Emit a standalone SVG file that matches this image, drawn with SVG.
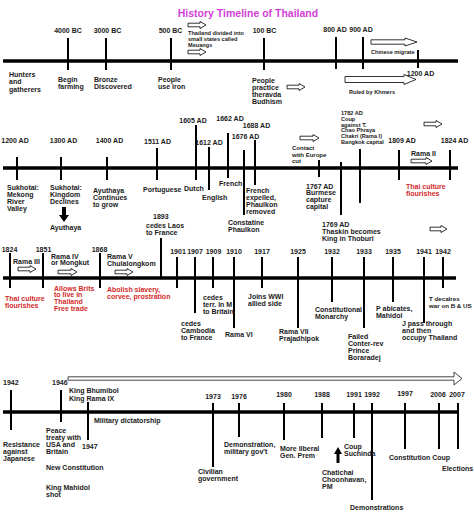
<svg xmlns="http://www.w3.org/2000/svg" width="474" height="530" viewBox="0 0 474 530">
<style>
text{font-family:"Liberation Sans",Arial,sans-serif;font-weight:bold;font-size:7px;fill:#1a1a1a}
.m{text-anchor:middle}
.r{fill:#d42a2a}
.s{font-size:5.6px}
.t{font-size:10.5px;fill:#d23fd6}
.ax{stroke:#000;stroke-width:3.5;fill:none}
.tk{stroke:#000;stroke-width:2}
.ha{fill:#fff;stroke:#000;stroke-width:0.8}
.la{fill:#fff;stroke:#444;stroke-width:1}
.sa{fill:#000}
</style>
<rect width="474" height="530" fill="#fff"/>
<g id="title"><text class="t m" x="248" y="17">History Timeline of Thailand</text></g>

<g id="connectors">
<line class="ax" x1="3" y1="61" x2="458" y2="61"/>
<line class="ax" x1="3" y1="168" x2="458" y2="168"/>
<line class="ax" x1="3" y1="278" x2="456" y2="278"/>
<line class="ax" x1="3" y1="412" x2="458" y2="412"/>
<g class="tk">
<line x1="68" y1="38" x2="68" y2="70"/><line x1="106" y1="38" x2="106" y2="70"/>
<line x1="171" y1="38" x2="171" y2="70"/><line x1="264" y1="38" x2="264" y2="70"/>
<line x1="336" y1="37" x2="336" y2="69"/><line x1="363" y1="37" x2="363" y2="69"/>
<line x1="418" y1="50" x2="418" y2="68"/>
<line x1="17" y1="157" x2="17" y2="180"/><line x1="61" y1="157" x2="61" y2="180"/>
<line x1="107" y1="157" x2="107" y2="180"/><line x1="157" y1="148" x2="157" y2="180"/>
<line x1="196" y1="125" x2="196" y2="180"/><line x1="209" y1="147" x2="209" y2="190"/>
<line x1="228" y1="133" x2="228" y2="178"/><line x1="255" y1="140" x2="255" y2="185"/>
<line x1="244" y1="150" x2="244" y2="215"/><line x1="319" y1="160" x2="319" y2="177"/>
<line x1="341" y1="162" x2="341" y2="215"/><line x1="360" y1="149" x2="360" y2="203"/>
<line x1="399" y1="150" x2="399" y2="180"/><line x1="450" y1="150" x2="450" y2="180"/>
<line x1="10" y1="253" x2="10" y2="288"/><line x1="43" y1="253" x2="43" y2="288"/>
<line x1="100" y1="253" x2="100" y2="288"/><line x1="161" y1="238" x2="161" y2="278"/>
<line x1="177" y1="257" x2="177" y2="288"/><line x1="195" y1="257" x2="195" y2="313"/>
<line x1="213" y1="257" x2="213" y2="288"/><line x1="234" y1="257" x2="234" y2="328"/>
<line x1="262" y1="257" x2="262" y2="288"/><line x1="298" y1="257" x2="298" y2="328"/>
<line x1="332" y1="257" x2="332" y2="302"/><line x1="364" y1="257" x2="364" y2="328"/>
<line x1="393" y1="257" x2="393" y2="302"/><line x1="424" y1="257" x2="424" y2="323"/>
<line x1="443" y1="257" x2="443" y2="288"/>
<line x1="11" y1="390" x2="11" y2="430"/><line x1="61" y1="390" x2="61" y2="422"/>
<line x1="88" y1="402" x2="88" y2="440"/><line x1="213" y1="403" x2="213" y2="467"/>
<line x1="239" y1="403" x2="239" y2="437"/><line x1="284" y1="403" x2="284" y2="440"/>
<line x1="322" y1="403" x2="322" y2="438"/><line x1="354" y1="403" x2="354" y2="438"/>
<line x1="372" y1="403" x2="372" y2="500"/><line x1="405" y1="403" x2="405" y2="449"/>
<line x1="439" y1="403" x2="439" y2="449"/><line x1="458" y1="403" x2="458" y2="449"/>
</g>
<g class="ha">
<path d="M287,85.2H299V83.5L305,87L299,90.5V88.8H287Z"/>
<path d="M188,23.2H200V21.5L206,25L200,28.5V26.8H188Z"/>
<path d="M188,50.2H200V48.5L206,52L200,55.5V53.8H188Z"/>
<path d="M371,39.8H405V38L417,42L405,46V44.2H371Z"/>
<path d="M345,76.5H404V74.5L416,79.5L404,84.5V82.5H345Z"/>
<path d="M300,136.2H313V134.5L319,138L313,141.5V139.8H300Z"/>
<path d="M424,122.2H436V120.5L442,124L436,127.5V125.8H424Z"/>
<path d="M411,159.2H426V157.5L432,161L426,164.5V162.8H411Z"/>
<path d="M430,227.2H441V225.5L447,229L441,232.5V230.8H430Z"/>
<path d="M18,267.2H30V265.5L36,269L30,272.5V270.8H18Z"/>
<path d="M58,270.2H71V268.5L77,272L71,275.5V273.8H58Z"/>
<path d="M115,270.2H127V268.5L133,272L127,275.5V273.8H115Z"/>
</g>
<path class="la" d="M68,376.8H454V372L462,378.5L454,385V380.2H68Z"/>
<path class="sa" d="M62,207H66V215H69L64,222L59,215H62Z"/>
<path class="sa" d="M336.5,463H339.5V454H342L338,447L334,454H336.5Z"/>
</g>

<g id="row1">
<g id="n4000bc"><text class="m" x="68" y="32.5">4000 BC</text><text x="58" y="81.5">Begin<tspan x="58" dy="7">farming</tspan></text></g>
<g id="n3000bc"><text class="m" x="107.5" y="32.5">3000 BC</text><text x="94" y="82">Bronze<tspan x="94" dy="7">Discovered</tspan></text></g>
<g id="nhunters"><text x="9" y="76.5">Hunters<tspan x="9" dy="7.5">and</tspan><tspan x="9" dy="7.5">gatherers</tspan></text></g>
<g id="n500bc"><text class="m" x="170.5" y="32.5">500 BC</text><text x="158" y="82">People<tspan x="158" dy="7">use iron</tspan></text></g>
<g id="nmeuangs"><text class="s" x="188" y="35">Thailand divided into<tspan x="188" dy="5.8">small states called</tspan><tspan x="188" dy="5.8">Meuangs</tspan></text></g>
<g id="n100bc"><text class="m" x="264.5" y="32.5">100 BC</text><text x="252" y="82.5">People<tspan x="252" dy="7">practice</tspan><tspan x="252" dy="7">theravda</tspan><tspan x="252" dy="7">Budhism</tspan></text></g>
<g id="n800ad"><text class="m" x="335" y="31.5">800 AD</text></g>
<g id="n900ad"><text class="m" x="361" y="31.5">900 AD</text></g>
<g id="nchinese"><text class="s" x="371" y="54">Chinese migrate</text></g>
<g id="n1200ad"><text class="m" x="420.5" y="75.5">1200 AD</text></g>
<g id="nkhmers"><text class="s" x="349" y="94">Ruled by Khmers</text></g>
</g>

<g id="row2">
<g id="r2n1200"><text class="m" x="15" y="142.5">1200 AD</text><text x="7" y="189.5">Sukhotai:<tspan x="7" dy="7">Mekong</tspan><tspan x="7" dy="7">River</tspan><tspan x="7" dy="7">Valley</tspan></text></g>
<g id="r2n1300"><text class="m" x="63.5" y="142.5">1300 AD</text><text x="50" y="189.5">Sukhotai:<tspan x="50" dy="7">Kingdom</tspan><tspan x="50" dy="7">Declines</tspan></text><text x="50" y="229.5">Ayuthaya</text></g>
<g id="r2n1400"><text class="m" x="109.5" y="142.5">1400 AD</text><text x="93" y="192.5">Ayuthaya<tspan x="93" dy="7">Continues</tspan><tspan x="93" dy="7">to grow</tspan></text></g>
<g id="r2n1511"><text class="m" x="157.5" y="143.5">1511 AD</text><text x="143" y="191.5">Portuguese</text></g>
<g id="r2n1605"><text class="m" x="193" y="122.5">1605 AD</text><text x="184" y="190.5">Dutch</text></g>
<g id="r2n1612"><text class="m" x="209" y="144.5">1612 AD</text><text x="202" y="199.5">English</text></g>
<g id="r2n1662"><text class="m" x="230" y="120.5">1662 AD</text><text x="219" y="185.5">French</text></g>
<g id="r2n1676"><text class="m" x="245.5" y="138.5">1676 AD</text><text x="246" y="192.5">French<tspan x="246" dy="7">expelled,</tspan><tspan x="246" dy="7">Phaulkon</tspan><tspan x="246" dy="7">removed</tspan></text></g>
<g id="r2n1688"><text class="m" x="256.5" y="127.5">1688 AD</text><text x="228" y="224.5">Constatine<tspan x="228" dy="7">Phaulkon</tspan></text></g>
<g id="r2contact"><text x="292" y="150" style="font-size:6px">Contact<tspan x="292" dy="6.5">with Europe</tspan><tspan x="292" dy="6.5">cut</tspan></text></g>
<g id="r2n1767"><text x="306" y="188.5">1767 AD<tspan x="306" dy="6.8">Burmese</tspan><tspan x="306" dy="6.8">capture</tspan><tspan x="306" dy="6.8">capital</tspan></text></g>
<g id="r2n1769"><text x="322" y="226.5">1769 AD<tspan x="322" dy="7">Thaskin becomes</tspan><tspan x="322" dy="7">King in Thoburi</tspan></text></g>
<g id="r2n1782"><text class="s" x="341" y="115">1782 AD<tspan x="341" dy="5.8">Coup</tspan><tspan x="341" dy="5.8">against T.</tspan><tspan x="341" dy="5.8">Chao Phraya</tspan><tspan x="341" dy="5.8">Chakri (Rama I)</tspan><tspan x="341" dy="5.8">Bangkok capital</tspan></text></g>
<g id="r2n1809"><text class="m" x="402" y="142.5">1809 AD</text><text x="411" y="155.5">Rama II</text><text class="r" x="406" y="188.5">Thai culture<tspan x="406" dy="7">flourishes</tspan></text></g>
<g id="r2n1824"><text class="m" x="454.5" y="142.5">1824 AD</text></g>
</g>

<g id="row3">
<g id="r3n1824"><text class="m" x="9.5" y="251.5">1824</text><text x="13" y="263.5">Rama III</text><text class="r" x="5" y="300.5">Thai culture<tspan x="5" dy="7">flourishes</tspan></text></g>
<g id="r3n1851"><text class="m" x="43.5" y="251.5">1851</text><text x="51" y="258.5">Rama IV<tspan x="51" dy="6.5">or Mongkut</tspan></text><text class="r" x="54" y="290.5">Allows Brits<tspan x="54" dy="6.8">to live in</tspan><tspan x="54" dy="6.8">Thailand</tspan><tspan x="54" dy="6.8">Free trade</tspan></text></g>
<g id="r3n1868"><text class="m" x="99.5" y="251.5">1868</text><text x="107" y="258.5">Rama V<tspan x="107" dy="7">Chulalongkom</tspan></text><text class="r" x="107" y="291.5">Abolish slavery,<tspan x="107" dy="7">corvee, prostration</tspan></text></g>
<g id="r3n1893"><text x="153" y="218.5">1893</text><text x="146" y="227.5">cedes Laos<tspan x="146" dy="7">to France</tspan></text></g>
<g id="r3n1901"><text class="m" x="178" y="253.5">1901</text></g>
<g id="r3n1907"><text class="m" x="195" y="253.5">1907</text><text x="181" y="325.5">cedes<tspan x="181" dy="7">Cambodia</tspan><tspan x="181" dy="7">to France</tspan></text></g>
<g id="r3n1909"><text class="m" x="213.5" y="253.5">1909</text><text x="203" y="299.5">cedes<tspan x="203" dy="7">terr. in M</tspan><tspan x="203" dy="7">to Britain</tspan></text></g>
<g id="r3n1910"><text class="m" x="234" y="253.5">1910</text><text x="225" y="336.5">Rama VI</text></g>
<g id="r3n1917"><text class="m" x="262" y="253.5">1917</text><text x="248" y="298.5">Joins WWI<tspan x="248" dy="7">allied side</tspan></text></g>
<g id="r3n1925"><text class="m" x="298" y="253.5">1925</text><text x="279" y="333.5">Rama VII<tspan x="279" dy="7">Prajadhipok</tspan></text></g>
<g id="r3n1932"><text class="m" x="332" y="253.5">1932</text><text x="315" y="311.5">Constitutional<tspan x="315" dy="7">Monarchy</tspan></text></g>
<g id="r3n1933"><text class="m" x="364" y="253.5">1933</text><text x="348" y="338.5">Failed<tspan x="348" dy="7">Conter-rev</tspan><tspan x="348" dy="7">Prince</tspan><tspan x="348" dy="7">Boraradej</tspan></text></g>
<g id="r3n1935"><text class="m" x="393" y="253.5">1935</text><text x="376" y="310.5">P abicates,<tspan x="376" dy="7">Mahidol</tspan></text></g>
<g id="r3n1941"><text class="m" x="424" y="253.5">1941</text><text x="402" y="325.5">J pass through<tspan x="402" dy="7">and then</tspan><tspan x="402" dy="7">occupy Thailand</tspan></text></g>
<g id="r3n1942"><text class="m" x="443" y="253.5">1942</text><text x="429" y="300.5" style="font-size:6.2px">T decalres<tspan x="429" dy="7">war on B &amp; US</tspan></text></g>
</g>

<g id="row4">
<g id="r4n1942"><text x="3" y="384.5">1942</text><text x="3" y="446.5">Resistance<tspan x="3" dy="7">against</tspan><tspan x="3" dy="7">Japanese</tspan></text></g>
<g id="r4n1946"><text x="52" y="384.5">1946</text><text x="69" y="392.5">King Bhumibol<tspan x="69" dy="8">King Rama IX</tspan></text><text x="46" y="432.5">Peace<tspan x="46" dy="7">treaty with</tspan><tspan x="46" dy="7">USA and</tspan><tspan x="46" dy="7">Britain</tspan></text><text x="46" y="469.5">New Constitution</text><text x="46" y="489.5">King Mahidol<tspan x="46" dy="7">shot</tspan></text></g>
<g id="r4n1947"><text x="82" y="448.5">1947</text><text x="94" y="422.5">Military dictatorship</text></g>
<g id="r4n1973"><text class="m" x="213" y="398.5">1973</text><text x="198" y="473.5">Civilian<tspan x="198" dy="7">government</tspan></text></g>
<g id="r4n1976"><text class="m" x="239" y="398.5">1976</text><text x="224" y="446.5">Demonstration,<tspan x="224" dy="7">military gov't</tspan></text></g>
<g id="r4n1980"><text class="m" x="284" y="396.5">1980</text><text x="280" y="450.5">More liberal<tspan x="280" dy="7">Gen. Prem</tspan></text></g>
<g id="r4n1988"><text class="m" x="322" y="396.5">1988</text><text x="322" y="474.5">Chatichai<tspan x="322" dy="7">Choonhavan,</tspan><tspan x="322" dy="7">PM</tspan></text></g>
<g id="r4n1991"><text class="m" x="354" y="396.5">1991</text><text x="344" y="448.5">Coup<tspan x="344" dy="7">Suchinda</tspan></text></g>
<g id="r4n1992"><text class="m" x="372" y="396.5">1992</text><text x="350" y="509.5">Demonstrations</text></g>
<g id="r4n1997"><text class="m" x="405" y="395.5">1997</text><text x="389" y="459.5">Constitution Coup</text></g>
<g id="r4n2006"><text class="m" x="438" y="396.5">2006</text></g>
<g id="r4n2007"><text class="m" x="457" y="396.5">2007</text><text x="442" y="470.5">Elections</text></g>
</g>
</svg>
